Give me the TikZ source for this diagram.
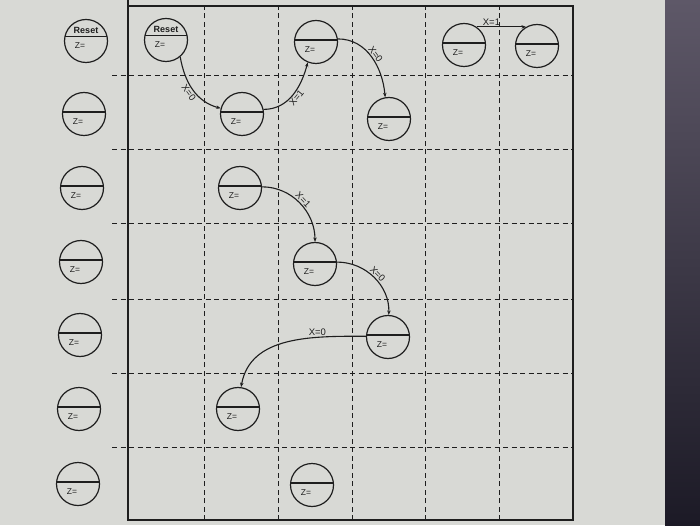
\documentclass[tikz,border=0pt]{standalone}
\usepackage{fontspec}
\setmainfont{Liberation Sans}
\usetikzlibrary{arrows.meta}
\definecolor{ink}{HTML}{1E1E1E}
\definecolor{paper}{HTML}{D8D9D5}
\definecolor{darktop}{HTML}{5E5868}
\definecolor{darkbot}{HTML}{1C1A26}
\begin{document}
\begin{tikzpicture}[x=1pt,y=1pt,
  gridd/.style={draw=ink, line width=1pt, dash pattern=on 5pt off 3.5pt},
  frame/.style={draw=ink, line width=1.2pt},
  st/.style={circle, draw=ink, line width=1.2pt, minimum size=43pt, inner sep=0pt,
    path picture={
      \draw[ink, line width=1.2pt] ([yshift=2pt]path picture bounding box.west) -- ([yshift=2pt]path picture bounding box.east);
      \node[font=\fontsize{8.5}{9}\selectfont, text=ink, inner sep=0pt] at ([xshift=-6pt,yshift=-8pt]path picture bounding box.center) {Z=};
    }},
  rst/.style={circle, draw=ink, line width=1.2pt, minimum size=43pt, inner sep=0pt,
    path picture={
      \draw[ink, line width=1.2pt] ([yshift=4.5pt]path picture bounding box.west) -- ([yshift=4.5pt]path picture bounding box.east);
      \node[font=\bfseries\fontsize{9}{10}\selectfont, text=ink, inner sep=0pt] at ([yshift=10.5pt]path picture bounding box.center) {Reset};
      \node[font=\fontsize{8.5}{9}\selectfont, text=ink, inner sep=0pt] at ([xshift=-6pt,yshift=-4.5pt]path picture bounding box.center) {Z=};
    }},
  arr/.style={draw=ink, line width=1.1pt, -{Stealth[length=4.5pt,width=3.5pt]}},
  lbl/.style={font=\fontsize{9.5}{10}\selectfont, text=ink, inner sep=1pt}
]
% background
\path[use as bounding box, fill=paper] (0,0) rectangle (700,525);
\shade[top color=darktop, bottom color=darkbot] (665,0) rectangle (700,525);

% grid
\foreach \x in {204,278,352,425,499} \draw[gridd] (\x,5) -- (\x,519);
\foreach \y in {449,375,301,226,152,78} \draw[gridd] (112,\y) -- (573,\y);
\draw[frame] (128,5) rectangle (573,519);
\draw[frame] (128,519) -- (128,525);

% left column
\node[rst] (L1) at (86,484) {};
\node[st] (L2) at (84,411) {};
\node[st] (L3) at (82,337) {};
\node[st] (L4) at (81,263) {};
\node[st] (L5) at (80,190) {};
\node[st] (L6) at (79,116) {};
\node[st] (L7) at (78,41) {};

% grid states
\node[rst] (R) at (166,485) {};
\node[st] (A) at (242,411) {};
\node[st] (B) at (316,483) {};
\node[st] (C) at (389,406) {};
\node[st] (D) at (464,480) {};
\node[st] (E) at (537,479) {};
\node[st] (F) at (240,337) {};
\node[st] (G) at (315,261) {};
\node[st] (H) at (388,188) {};
\node[st] (I) at (238,116) {};
\node[st] (J) at (312,40) {};

% transitions
\draw[arr] (R.-50) to[out=-80,in=165] node[lbl,sloped,below]{X=0} (A.165);
\draw[arr] (A.12) to[out=0,in=-105] node[lbl,sloped,below]{X=1} (B.-112);
\draw[arr] (B.8) to[out=0,in=95] node[lbl,sloped,above]{X=0} (C.100);
\draw[arr] (D.55) -- node[lbl,above,pos=0.3]{X=1} (D.55 -| E.120);
\draw[arr] (F.3) to[out=0,in=90] node[lbl,sloped,above]{X=1} (G.90);
\draw[arr] (G.5) to[out=0,in=88] node[lbl,sloped,above]{X=0} (H.88);
\draw[arr] (H.178) to[out=180,in=80] node[lbl,above,pos=0.3]{X=0} (I.82);
\end{tikzpicture}
\end{document}
